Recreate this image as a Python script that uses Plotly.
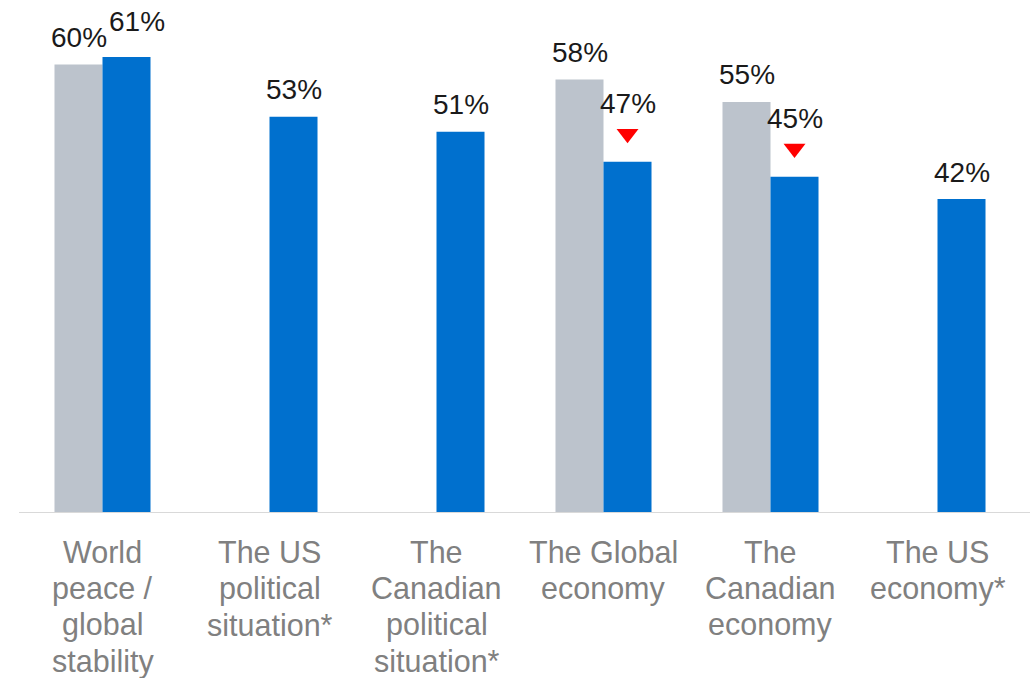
import plotly.graph_objects as go

# Concern categories and shares for the two survey waves
categories = [
    "World<br>peace /<br>global<br>stability",
    "The US<br>political<br>situation*",
    "The<br>Canadian<br>political<br>situation*",
    "The Global<br>economy",
    "The<br>Canadian<br>economy",
    "The US<br>economy*",
]
previous = [60, None, None, 58, 55, None]
current = [61, 53, 51, 47, 45, 42]
significant_drop = [False, False, False, True, True, False]

GRAY = "#BCC3CC"
BLUE = "#0070CE"
FONT = "Liberation Sans, Arial, sans-serif"
BARGAP = 0.425
BAR_W = (1 - BARGAP) / 2  # width of one bar in category units

pos = list(range(len(categories)))

fig = go.Figure()
fig.add_bar(x=pos, y=previous, name="Previous", marker_color=GRAY,
            marker_line_width=0, hoverinfo="skip")
fig.add_bar(x=pos, y=current, name="Current", marker_color=BLUE,
            marker_line_width=0, hoverinfo="skip")

# Red arrows above the bars with a significant decline
drop_x = [i + BAR_W / 2 for i, d in zip(pos, significant_drop) if d]
drop_y = [v + 3.75 for v, d in zip(current, significant_drop) if d]
fig.add_scatter(x=drop_x, y=drop_y, mode="markers",
                marker=dict(symbol="triangle-down", size=19, color="#FF0000",
                            line_width=0),
                hoverinfo="skip", showlegend=False)

annotations = []
half = 24  # half a bar width, px
label_font = dict(size=28, color="#1a1a1a", family=FONT)
for i in pos:
    p = previous[i]
    if p is not None:
        annotations.append(dict(x=i, y=p, text=f"{p}%", xref="x", yref="y",
                                xshift=-half, yshift=27, showarrow=False,
                                font=label_font))
    v = current[i]
    xs, ys = half, 27
    if significant_drop[i]:
        ys = 58
    if p is not None and not significant_drop[i]:
        xs, ys = half + 10, 36
    annotations.append(dict(x=i, y=v, text=f"{v}%", xref="x", yref="y",
                            xshift=xs, yshift=ys, showarrow=False,
                            font=label_font))

# Category labels, one line at a time for tighter line spacing
for i, cat in enumerate(categories):
    for k, line in enumerate(cat.split("<br>")):
        annotations.append(dict(x=i, y=0, text=line, xref="x", yref="y",
                                yanchor="middle", yshift=-(38.5 + 36.5 * k),
                                showarrow=False,
                                font=dict(size=30.5, color="#808080", family=FONT)))

fig.update_layout(
    width=1030, height=678,
    margin=dict(l=19, r=9, t=0, b=165),
    paper_bgcolor="white", plot_bgcolor="white",
    barmode="group", bargap=BARGAP, bargroupgap=0,
    showlegend=False,
    annotations=annotations,
    font=dict(family=FONT),
    xaxis=dict(range=[-0.5, len(categories) - 0.5], showgrid=False,
               showline=False, zeroline=False, ticks="", showticklabels=False,
               fixedrange=True),
    yaxis=dict(range=[0, 68.63], visible=False, fixedrange=True),
    shapes=[dict(type="line", xref="paper", yref="y", x0=0, x1=1.02, y0=0, y1=0,
                 line=dict(color="#D9D9D9", width=2))],
)

fig.write_html("out.html", config={"displayModeBar": False})
